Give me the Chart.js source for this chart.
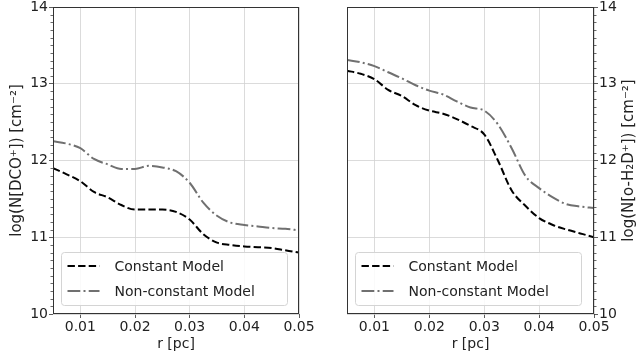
<!DOCTYPE html>
<html>
<head>
<meta charset="utf-8">
<script src="https://cdn.jsdelivr.net/npm/chart.js@4.4.1/dist/chart.umd.min.js"></script>
<style>
  html, body { margin: 0; padding: 0; background: #fff; }
  #wrap { position: relative; width: 639px; height: 360px; }
  .box { position: absolute; top: 0; height: 360px; }
</style>
</head>
<body>
<div id="wrap">
  <div class="box" style="left:0;width:320px"><canvas id="chart1" width="320" height="360"></canvas></div>
  <div class="box" style="left:320px;width:319px"><canvas id="chart2" width="319" height="360"></canvas></div>
</div>
<script>
// r [pc]
var rValues = [0.005, 0.0075, 0.01, 0.0125, 0.015, 0.0175, 0.02, 0.0225, 0.025, 0.0275,
               0.03, 0.0325, 0.035, 0.0375, 0.04, 0.0425, 0.045, 0.0475, 0.05];
var xTicks = [0.01, 0.02, 0.03, 0.04, 0.05];
var yTicks = [10, 11, 12, 13, 14];
var seriesNames = ['Constant Model', 'Non-constant Model'];

// log N(DCO+)
var dcoConstant    = [11.90, 11.82, 11.73, 11.59, 11.52, 11.42, 11.36, 11.36, 11.36, 11.33,
                      11.23, 11.04, 10.93, 10.90, 10.88, 10.87, 10.86, 10.83, 10.80];
var dcoNonConstant = [12.25, 12.22, 12.16, 12.02, 11.95, 11.89, 11.89, 11.93, 11.91, 11.86,
                      11.71, 11.45, 11.28, 11.19, 11.16, 11.14, 11.12, 11.11, 11.09];
// log N(o-H2D+)
var h2dConstant    = [13.17, 13.13, 13.06, 12.92, 12.84, 12.72, 12.65, 12.61, 12.54, 12.45,
                      12.34, 12.00, 11.61, 11.41, 11.25, 11.16, 11.10, 11.05, 11.00];
var h2dNonConstant = [13.31, 13.28, 13.23, 13.15, 13.07, 12.98, 12.91, 12.86, 12.77, 12.69,
                      12.65, 12.47, 12.16, 11.80, 11.64, 11.52, 11.43, 11.40, 11.38];

var FONT = 'DejaVu Sans';
var styles = [
  { color: '#000000', dash: [7.4, 3.2] },
  { color: '#707070', dash: [12.8, 3.2, 2, 3.2] }
];

function toPoints(ys) {
  return rValues.map(function (r, i) { return { x: r, y: ys[i] }; });
}

// frame, minor ticks, axis titles and legend
var extras = {
  id: 'extras',
  afterDraw: function (chart, args, opt) {
    var ctx = chart.ctx, a = chart.chartArea, ys = chart.scales.y;
    ctx.save();

    // minor ticks every 0.1
    ctx.strokeStyle = '#444';
    ctx.lineWidth = 0.8;
    ctx.beginPath();
    for (var i = 100; i <= 140; i++) {
      if (i % 10 === 0) continue;
      var py = Math.round(ys.getPixelForValue(i / 10)) + 0.5;
      if (opt.side === 'left') { ctx.moveTo(a.left, py); ctx.lineTo(a.left - 2.5, py); }
      else { ctx.moveTo(a.right, py); ctx.lineTo(a.right + 2.5, py); }
    }
    ctx.stroke();

    // frame
    ctx.strokeStyle = '#333';
    ctx.lineWidth = 1;
    ctx.strokeRect(Math.round(a.left) + 0.5, Math.round(a.top) + 0.5,
                   Math.round(a.right - a.left) - 1, Math.round(a.bottom - a.top) - 1);

    // titles
    ctx.fillStyle = '#222';
    ctx.font = '14px "' + FONT + '"';
    ctx.textAlign = 'center';
    ctx.textBaseline = 'middle';
    ctx.fillText('r [pc]', (a.left + a.right) / 2, 344);
    ctx.save();
    ctx.translate(opt.titleX, (a.top + a.bottom) / 2);
    ctx.rotate(-Math.PI / 2);
    ctx.font = '15px "' + FONT + '"';
    ctx.fillText(opt.yTitle, 0, 0);
    ctx.restore();

    // legend
    var bx = a.left + 8.5, by = a.bottom - 61.5, bw = 226, bh = 53;
    ctx.beginPath();
    ctx.roundRect(bx, by, bw, bh, 3);
    ctx.fillStyle = 'rgba(255,255,255,0.85)';
    ctx.fill();
    ctx.strokeStyle = '#d4d4d4';
    ctx.lineWidth = 1;
    ctx.stroke();
    ctx.font = '14px "' + FONT + '"';
    ctx.textAlign = 'left';
    for (var k = 0; k < seriesNames.length; k++) {
      var ly = by + 13.5 + k * 25;
      ctx.beginPath();
      ctx.setLineDash(styles[k].dash);
      ctx.strokeStyle = styles[k].color;
      ctx.lineWidth = 2;
      ctx.moveTo(bx + 6, ly);
      ctx.lineTo(bx + 38, ly);
      ctx.stroke();
      ctx.setLineDash([]);
      ctx.fillStyle = '#222';
      ctx.fillText(seriesNames[k], bx + 53, ly + 1);
    }
    ctx.restore();
  }
};

function makeChart(id, constVals, nonConstVals, side, yTitle, titleX, pad) {
  var data = {
    datasets: [constVals, nonConstVals].map(function (vals, k) {
      return {
        label: seriesNames[k],
        data: toPoints(vals),
        borderColor: styles[k].color,
        borderDash: styles[k].dash,
        borderWidth: 2,
        pointRadius: 0,
        fill: false,
        cubicInterpolationMode: 'monotone'
      };
    })
  };

  var config = {
    type: 'line',
    data: data,
    plugins: [extras],
    options: {
      responsive: false,
      animation: false,
      devicePixelRatio: 1,
      layout: { padding: pad },
      plugins: {
        legend: { display: false },
        tooltip: { enabled: false },
        extras: { side: side, yTitle: yTitle, titleX: titleX }
      },
      scales: {
        x: {
          type: 'linear',
          min: 0.005,
          max: 0.05,
          afterBuildTicks: function (s) { s.ticks = xTicks.map(function (v) { return { value: v }; }); },
          afterFit: function (s) { s.height = 46; s.paddingLeft = 0; s.paddingRight = 0; },
          ticks: {
            color: '#222',
            padding: 1,
            maxRotation: 0,
            font: { family: FONT, size: 14 },
            callback: function (v) { return v.toFixed(2); }
          },
          grid: { color: '#d2d2d2', lineWidth: 0.8, tickLength: 4, tickColor: '#333' },
          border: { display: false }
        },
        y: {
          position: side,
          min: 10,
          max: 14,
          afterBuildTicks: function (s) { s.ticks = yTicks.map(function (v) { return { value: v }; }); },
          afterFit: function (s) { s.width = side === 'left' ? 53 : 45; s.paddingTop = 0; s.paddingBottom = 0; },
          ticks: {
            color: '#222',
            padding: 1,
            font: { family: FONT, size: 14 },
            callback: function (v) { return String(v); }
          },
          grid: { color: '#d2d2d2', lineWidth: 0.8, tickLength: 4, tickColor: '#333' },
          border: { display: false }
        }
      }
    }
  };

  return new Chart(document.getElementById(id), config);
}

makeChart('chart1', dcoConstant, dcoNonConstant, 'left',
          'log(N[DCO\u207A]) [cm\u207B\u00B2]', 17.5, { top: 7, right: 21, left: 0, bottom: 0 });
makeChart('chart2', h2dConstant, h2dNonConstant, 'right',
          'log(N[o-H\u2082D\u207A]) [cm\u207B\u00B2]', 309.5, { top: 7, right: 0, left: 27, bottom: 0 });
</script>
</body>
</html>
